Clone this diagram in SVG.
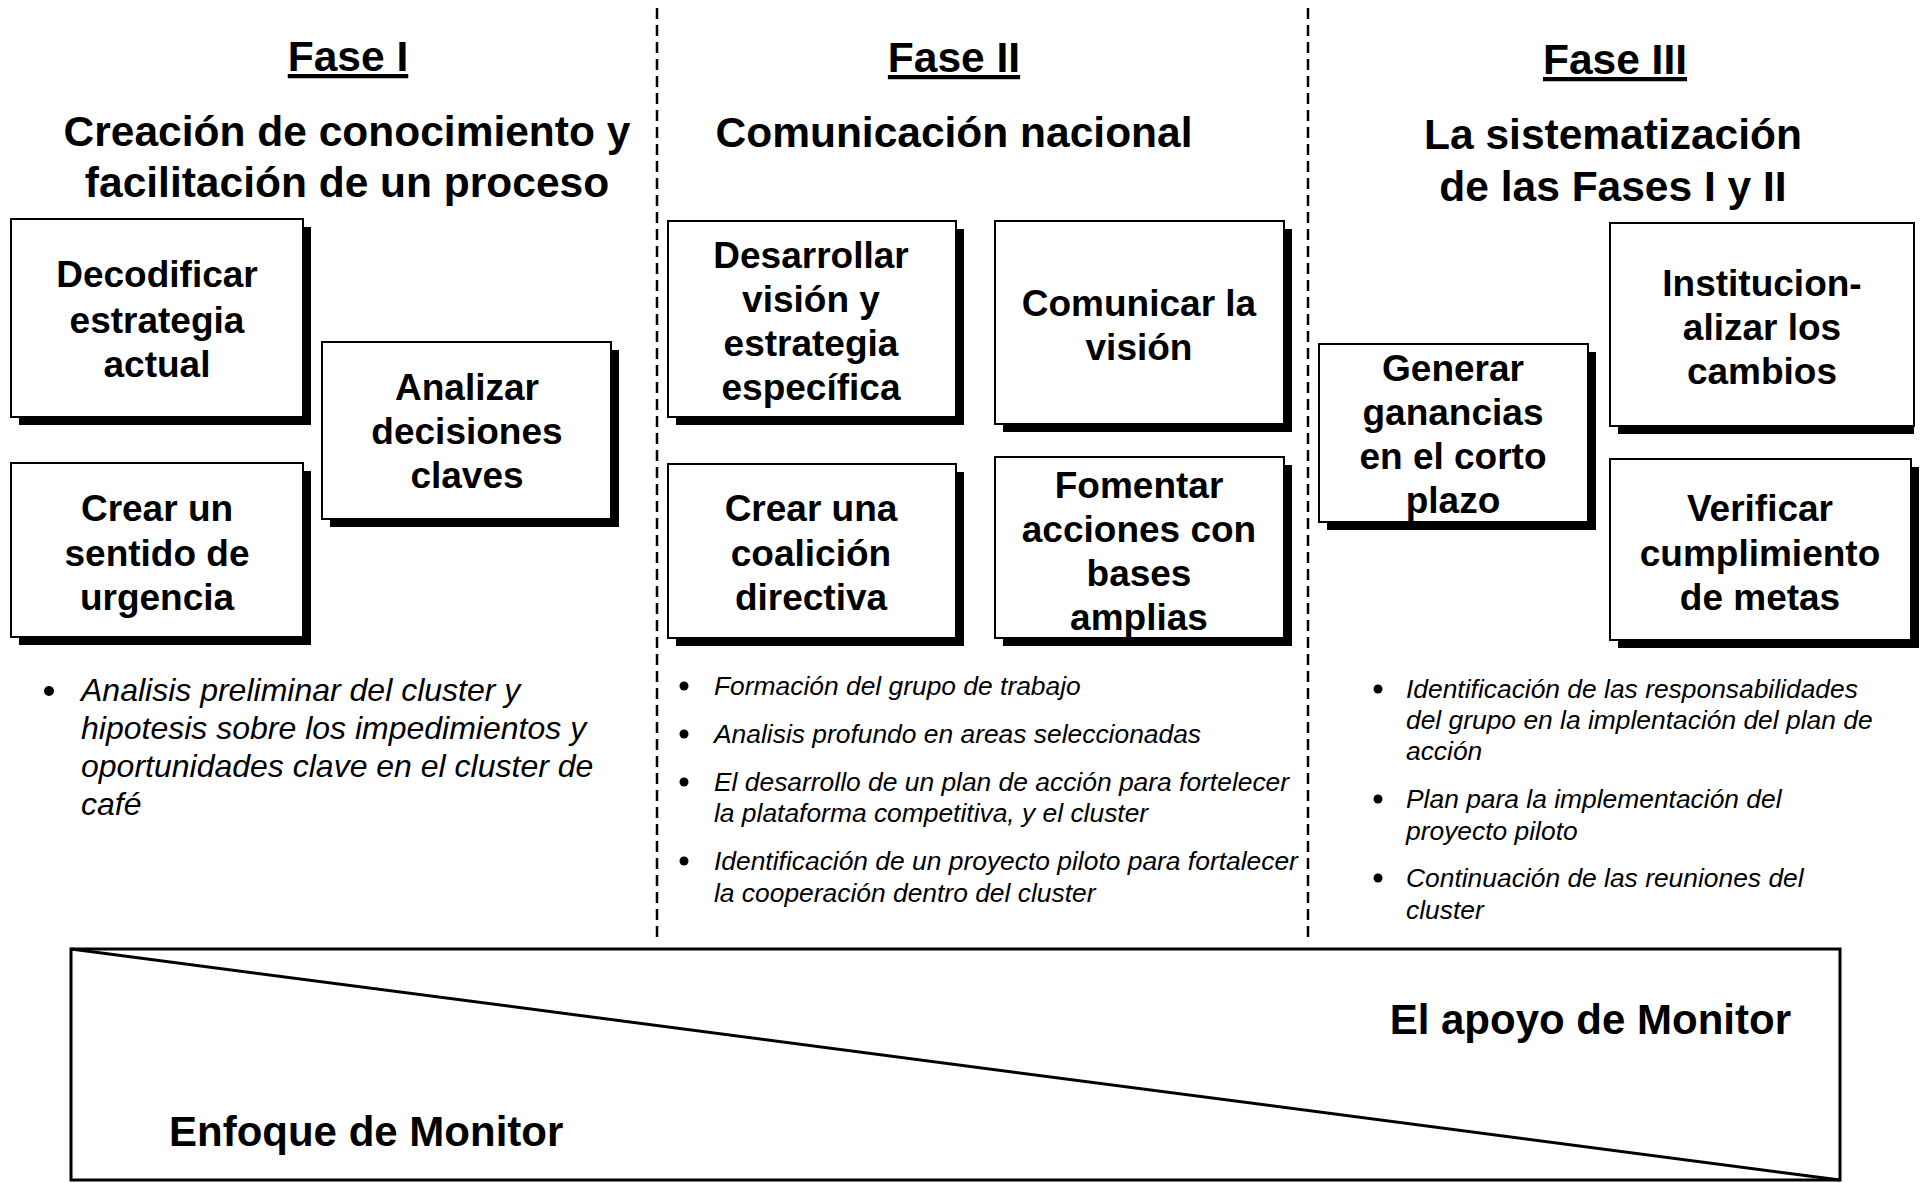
<svg xmlns="http://www.w3.org/2000/svg" width="1921" height="1183" viewBox="0 0 1921 1183">
<defs>
<style>
.hdr{font-family:"Liberation Sans",Arial,sans-serif;font-weight:bold;font-size:42.5px;fill:#000;text-anchor:middle}
.ul{text-decoration:underline}
.bx{fill:#fff;stroke:#000;stroke-width:2}
.sh{fill:#000}
.bt{font-family:"Liberation Sans",Arial,sans-serif;font-weight:bold;font-size:37px;fill:#000;text-anchor:middle}
.b1{font-family:"Liberation Sans",Arial,sans-serif;font-style:italic;font-size:32px;fill:#000}
.b2{font-family:"Liberation Sans",Arial,sans-serif;font-style:italic;font-size:26.4px;fill:#000}
.dash{stroke:#000;stroke-width:2.5;stroke-dasharray:11 6;fill:none}
.bl{fill:#000}
.mon{font-family:"Liberation Sans",Arial,sans-serif;font-weight:bold;font-size:42px;fill:#000}
</style>
</defs>
<rect width="1921" height="1183" fill="#fff"/>
<g id="dividers">
<line class="dash" x1="657" y1="8" x2="657" y2="943"/>
<line class="dash" x1="1308" y1="8" x2="1308" y2="943"/>
</g>
<g id="headers">
<text class="hdr ul" x="348" y="71">Fase I</text>
<text class="hdr" x="347" y="146">Creación de conocimiento y</text>
<text class="hdr" x="347" y="197">facilitación de un proceso</text>
<text class="hdr ul" x="954" y="72">Fase II</text>
<text class="hdr" x="954" y="147">Comunicación nacional</text>
<text class="hdr ul" x="1615" y="74">Fase III</text>
<text class="hdr" x="1613" y="149">La sistematización</text>
<text class="hdr" x="1613" y="201">de las Fases I y II</text>
</g>
<g id="n1"><rect class="sh" x="19" y="227" width="292" height="198"/><rect class="bx" x="11" y="219" width="292" height="198"/>
<text class="bt" x="157" y="287">Decodificar</text><text class="bt" x="157" y="333">estrategia</text><text class="bt" x="157" y="377">actual</text></g>
<g id="n2"><rect class="sh" x="330" y="350" width="289" height="177"/><rect class="bx" x="322" y="342" width="289" height="177"/>
<text class="bt" x="467" y="400">Analizar</text><text class="bt" x="467" y="444">decisiones</text><text class="bt" x="467" y="488">claves</text></g>
<g id="n3"><rect class="sh" x="19" y="471" width="292" height="174"/><rect class="bx" x="11" y="463" width="292" height="174"/>
<text class="bt" x="157" y="521">Crear un</text><text class="bt" x="157" y="566">sentido de</text><text class="bt" x="157" y="610">urgencia</text></g>
<g id="n4"><rect class="sh" x="676" y="229" width="288" height="196"/><rect class="bx" x="668" y="221" width="288" height="196"/>
<text class="bt" x="811" y="268">Desarrollar</text><text class="bt" x="811" y="312">visión y</text><text class="bt" x="811" y="356">estrategia</text><text class="bt" x="811" y="400">específica</text></g>
<g id="n5"><rect class="sh" x="1003" y="229" width="289" height="203"/><rect class="bx" x="995" y="221" width="289" height="203"/>
<text class="bt" x="1139" y="316">Comunicar la</text><text class="bt" x="1139" y="360">visión</text></g>
<g id="n6"><rect class="sh" x="676" y="472" width="288" height="174"/><rect class="bx" x="668" y="464" width="288" height="174"/>
<text class="bt" x="811" y="521">Crear una</text><text class="bt" x="811" y="566">coalición</text><text class="bt" x="811" y="610">directiva</text></g>
<g id="n7"><rect class="sh" x="1003" y="465" width="289" height="181"/><rect class="bx" x="995" y="457" width="289" height="181"/>
<text class="bt" x="1139" y="498">Fomentar</text><text class="bt" x="1139" y="542">acciones con</text><text class="bt" x="1139" y="586">bases</text><text class="bt" x="1139" y="630">amplias</text></g>
<g id="n8"><rect class="sh" x="1327" y="352" width="269" height="178"/><rect class="bx" x="1319" y="344" width="269" height="178"/>
<text class="bt" x="1453" y="381">Generar</text><text class="bt" x="1453" y="425">ganancias</text><text class="bt" x="1453" y="469">en el corto</text><text class="bt" x="1453" y="513">plazo</text></g>
<g id="n9"><rect class="sh" x="1618" y="231" width="296" height="203"/><rect class="bx" x="1610" y="223" width="304" height="203"/>
<text class="bt" x="1762" y="296">Institucion-</text><text class="bt" x="1762" y="340">alizar los</text><text class="bt" x="1762" y="384">cambios</text></g>
<g id="n10"><rect class="sh" x="1618" y="467" width="301" height="181"/><rect class="bx" x="1610" y="459" width="301" height="181"/>
<text class="bt" x="1760" y="521">Verificar</text><text class="bt" x="1760" y="566">cumplimiento</text><text class="bt" x="1760" y="610">de metas</text></g>
<g id="bullets1">
<circle class="bl" cx="49" cy="691" r="5"/>
<text class="b1" x="81" y="701">Analisis preliminar del cluster y</text>
<text class="b1" x="81" y="739">hipotesis sobre los impedimientos y</text>
<text class="b1" x="81" y="777">oportunidades clave en el cluster de</text>
<text class="b1" x="81" y="815">café</text>
</g>
<g id="bullets2">
<circle class="bl" cx="684" cy="686" r="4.5"/>
<text class="b2" x="714" y="695">Formación del grupo de trabajo</text>
<circle class="bl" cx="684" cy="734" r="4.5"/>
<text class="b2" x="714" y="743">Analisis profundo en areas seleccionadas</text>
<circle class="bl" cx="684" cy="782" r="4.5"/>
<text class="b2" x="714" y="791">El desarrollo de un plan de acción para fortelecer</text>
<text class="b2" x="714" y="822">la plataforma competitiva, y el cluster</text>
<circle class="bl" cx="684" cy="861" r="4.5"/>
<text class="b2" x="714" y="870">Identificación de un proyecto piloto para fortalecer</text>
<text class="b2" x="714" y="902">la cooperación dentro del cluster</text>
</g>
<g id="bullets3">
<circle class="bl" cx="1378" cy="689" r="4.5"/>
<text class="b2" x="1406" y="698">Identificación de las responsabilidades</text>
<text class="b2" x="1406" y="729">del grupo en la implentación del plan de</text>
<text class="b2" x="1406" y="760">acción</text>
<circle class="bl" cx="1378" cy="799" r="4.5"/>
<text class="b2" x="1406" y="808">Plan para la implementación del</text>
<text class="b2" x="1406" y="840">proyecto piloto</text>
<circle class="bl" cx="1378" cy="878" r="4.5"/>
<text class="b2" x="1406" y="887">Continuación de las reuniones del</text>
<text class="b2" x="1406" y="919">cluster</text>
</g>
<g id="monitor">
<rect x="71" y="949" width="1769" height="231" fill="#fff" stroke="#000" stroke-width="3"/>
<line x1="71" y1="949" x2="1840" y2="1180" stroke="#000" stroke-width="3"/>
<text class="mon" x="1791" y="1034" text-anchor="end">El apoyo de Monitor</text>
<text class="mon" x="169" y="1146">Enfoque de Monitor</text>
</g>
</svg>
